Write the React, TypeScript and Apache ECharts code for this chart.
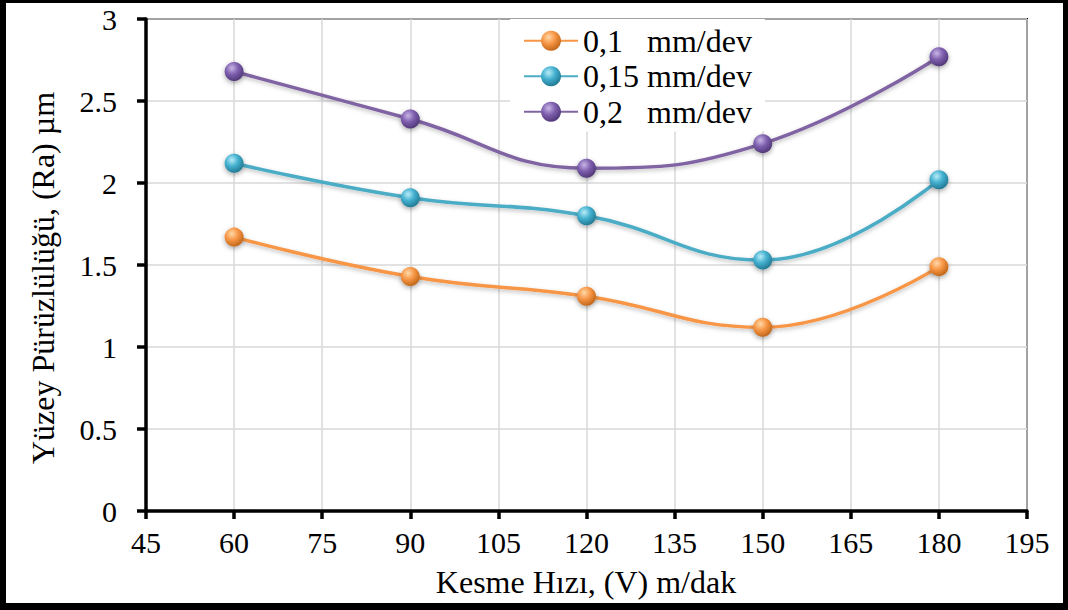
import React, { useEffect, useRef } from "react";
import * as echarts from "echarts";

const speeds = [60, 90, 120, 150, 180];
const seriesNames = ["0,1\u00A0\u00A0\u00A0mm/dev", "0,15 mm/dev", "0,2\u00A0\u00A0\u00A0mm/dev"];
const feed01 = [1.67, 1.43, 1.31, 1.12, 1.49];
const feed015 = [2.12, 1.91, 1.80, 1.53, 2.02];
const feed02 = [2.68, 2.39, 2.09, 2.24, 2.77];
const xTitle = "Kesme Hızı, (V) m/dak";
const yTitle = "Yüzey Pürüzlülüğü, (Ra) µm";

const FONT = "serif";

const palette = [
  { line: "#F79646", light: "#FFD9A8", mid: "#F79646", dark: "#B85F12" },
  { line: "#4BACC6", light: "#B8ECF8", mid: "#43B0CF", dark: "#1D7189" },
  { line: "#8064A2", light: "#C9B5E6", mid: "#7E5FAE", dark: "#4A3270" },
];

function ball(c: { light: string; mid: string; dark: string }) {
  return new echarts.graphic.RadialGradient(0.38, 0.32, 0.75, [
    { offset: 0, color: c.light },
    { offset: 0.45, color: c.mid },
    { offset: 1, color: c.dark },
  ]);
}

export default function App() {
  const ref = useRef<HTMLDivElement>(null);
  useEffect(() => {
    if (!ref.current) return;
    const chart = echarts.init(ref.current, null, { renderer: "svg" });
    const datasets = [feed01, feed015, feed02];
    const series = datasets.map((vals, i) => ({
      name: seriesNames[i],
      type: "line",
      smooth: 0.45,
      data: speeds.map((s, j) => [s, vals[j]]),
      symbol: "circle",
      symbolSize: 19,
      lineStyle: {
        color: palette[i].line,
        width: 3.5,
        shadowColor: "rgba(0,0,0,0.25)",
        shadowBlur: 4,
        shadowOffsetY: 2,
      },
      itemStyle: {
        color: ball(palette[i]),
        borderWidth: 0,
        shadowColor: "rgba(0,0,0,0.35)",
        shadowBlur: 5,
        shadowOffsetY: 2,
      },
      z: 3,
    }));
    chart.setOption({
      animation: false,
      backgroundColor: "#fff",
      textStyle: { fontFamily: FONT, color: "#000" },
      grid: {
        left: 146,
        right: 41,
        top: 19,
        bottom: 99,
        show: true,
        borderColor: "#000",
        borderWidth: 2,
        backgroundColor: "transparent",
      },
      legend: {
        orient: "vertical",
        left: 510,
        top: 19,
        padding: [4, 13, 2, 13],
        backgroundColor: "#fff",
        itemWidth: 54,
        itemHeight: 25,
        itemGap: 0,
        textStyle: { fontFamily: FONT, fontSize: 32, color: "#000", lineHeight: 35.5 },
        data: seriesNames,
      },
      xAxis: {
        type: "value",
        min: 45,
        max: 195,
        interval: 15,
        axisLine: { show: true, onZero: false, lineStyle: { color: "#000", width: 3.5 } },
        axisTick: { show: true, length: 8, lineStyle: { color: "#000", width: 3.5 } },
        splitLine: { show: true, lineStyle: { color: "#d9d9d9", width: 1.5 } },
        axisLabel: { fontFamily: FONT, fontSize: 30, color: "#000", margin: 16 },
      },
      yAxis: {
        type: "value",
        min: 0,
        max: 3,
        interval: 0.5,
        axisLine: { show: true, lineStyle: { color: "#000", width: 3.5 } },
        axisTick: { show: true, length: 9, lineStyle: { color: "#000", width: 3.5 } },
        splitLine: { show: true, lineStyle: { color: "#d9d9d9", width: 1.5 } },
        axisLabel: { fontFamily: FONT, fontSize: 30, color: "#000", margin: 29 },
      },
      graphic: [
        { type: "rect", left: 0, top: 0, shape: { width: 1068, height: 3 }, style: { fill: "#000" }, z: 100 },
        { type: "rect", left: 0, top: 603, shape: { width: 1068, height: 7 }, style: { fill: "#000" }, z: 100 },
        { type: "rect", left: 0, top: 0, shape: { width: 6, height: 610 }, style: { fill: "#000" }, z: 100 },
        { type: "rect", left: 1063, top: 0, shape: { width: 5, height: 610 }, style: { fill: "#000" }, z: 100 },
        {
          type: "text",
          x: 43,
          y: 278,
          rotation: Math.PI / 2,
          style: { text: yTitle, fontFamily: FONT, fontSize: 32, fill: "#000", align: "center", verticalAlign: "middle" },
          z: 100,
        },
        {
          type: "text",
          x: 586,
          y: 582,
          style: { text: xTitle, fontFamily: FONT, fontSize: 32, fill: "#000", align: "center", verticalAlign: "middle" },
          z: 100,
        },
      ],
      series,
    });
    return () => chart.dispose();
  }, []);
  return <div ref={ref} style={{ position: "fixed", left: 0, top: 0, width: 1068, height: 610 }} />;
}
